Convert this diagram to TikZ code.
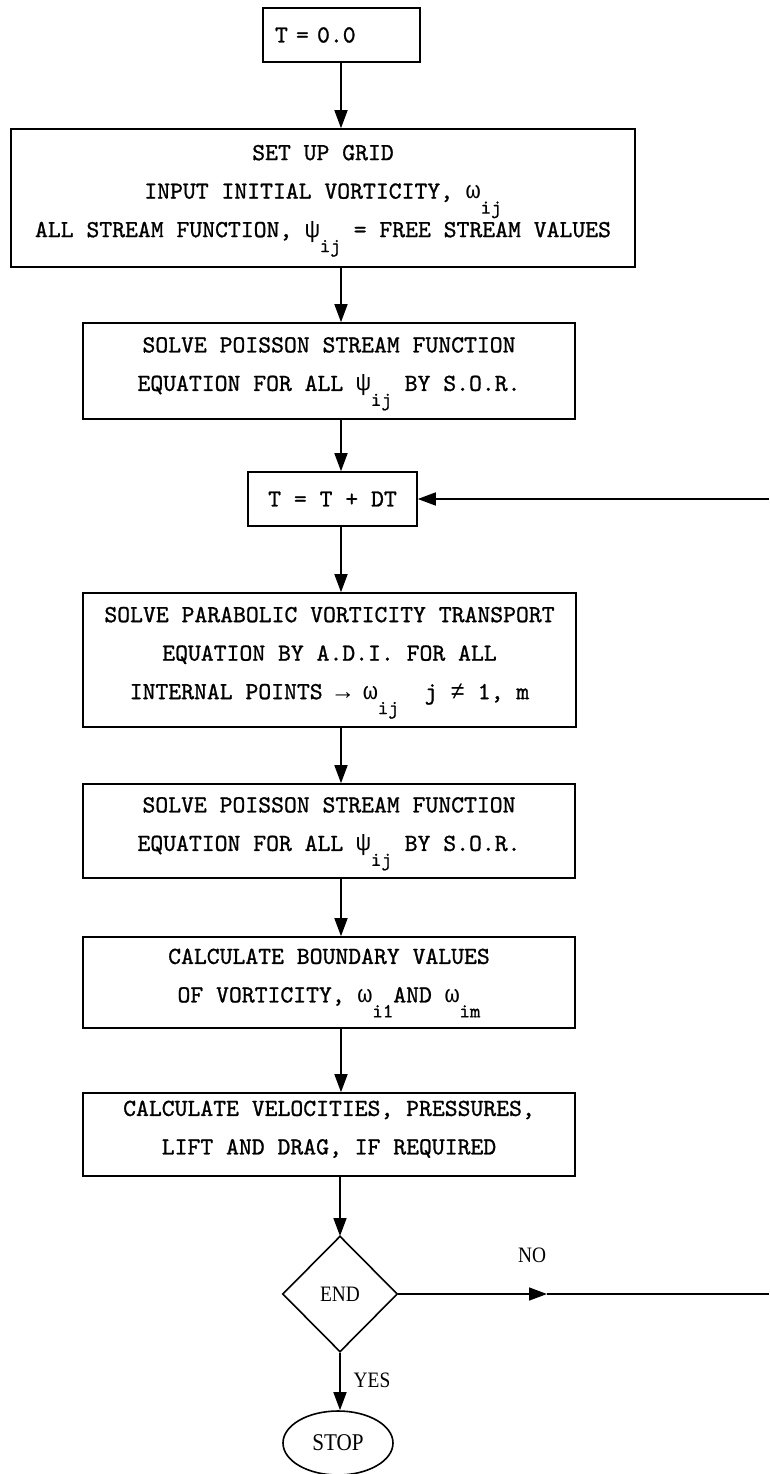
\documentclass[tikz,border=0pt]{standalone}
\usepackage{fontspec}
\usetikzlibrary{shapes.geometric,arrows.meta}
\newfontfamily\tw{lmmono10-regular.otf}[FakeStretch=1.0,FakeBold=1]
\newfontfamily\gk{Liberation Mono}
\newfontfamily\lbl{Liberation Serif}[FakeStretch=0.88]
\newcommand\ssub[1]{\smash{\raisebox{-15pt}{\fontsize{20}{20}\selectfont #1}}}
\newcommand\lstrut{\rule[-14pt]{0pt}{28pt}}
\begin{document}
\begin{tikzpicture}[x=1pt,y=-1pt,line width=1.6pt,
  box/.style={draw,rectangle,inner sep=0pt,font=\tw\fontsize{24.5}{38.5}\selectfont,align=center},
  lab/.style={inner sep=0pt,font=\lbl\fontsize{22}{22}\selectfont},
  arr/.style={-{Triangle[length=18pt,width=13pt]}}]
\fill[white] (0,0) rectangle (769,1474);
\useasboundingbox (0,0) rectangle (769,1474);
\coordinate (ax) at (341,0);
\node[box,minimum width=157pt,minimum height=54pt,text width=133pt,align=left] (b1) at (341.5,35) {T = 0.0};
\node[box,minimum width=624pt,minimum height=138pt] (b2) at (323,198)
  {\lstrut SET UP GRID\\
   \lstrut INPUT INITIAL VORTICITY, {\gk ω}\ssub{ij}\\
   \lstrut ALL STREAM FUNCTION, {\gk ψ}\ssub{ij} = FREE STREAM VALUES};
\node[box,minimum width=492pt,minimum height=96pt] (b3) at (329,371)
  {\lstrut SOLVE POISSON STREAM FUNCTION\\
   \lstrut EQUATION FOR ALL {\gk ψ}\ssub{ij} BY S.O.R.};
\node[box,minimum width=169pt,minimum height=54pt] (b4) at (332.5,499) {T = T + DT};
\node[box,minimum width=493pt,minimum height=134pt] (b5) at (329.5,660)
  {\lstrut SOLVE PARABOLIC VORTICITY TRANSPORT\\
   \lstrut EQUATION BY A.D.I. FOR ALL\\
   \lstrut INTERNAL POINTS {\gk →} {\gk ω}\ssub{ij}\ \ j {\gk ≠} 1, m};
\node[box,minimum width=492pt,minimum height=94pt] (b6) at (329,831)
  {\lstrut SOLVE POISSON STREAM FUNCTION\\
   \lstrut EQUATION FOR ALL {\gk ψ}\ssub{ij} BY S.O.R.};
\node[box,minimum width=492pt,minimum height=91pt] (b7) at (329,982.5)
  {\lstrut CALCULATE BOUNDARY VALUES\\
   \lstrut OF VORTICITY, {\gk ω}\ssub{i1}AND {\gk ω}\ssub{im}};
\node[box,minimum width=492pt,minimum height=83pt] (b8) at (329,1134.5)
  {\lstrut CALCULATE VELOCITIES, PRESSURES,\\
   \lstrut LIFT AND DRAG, IF REQUIRED};
\node[draw,diamond,minimum width=115pt,minimum height=116pt,inner sep=0pt,font=\lbl\fontsize{22}{22}\selectfont] (d) at (340,1294) {END};
\node[draw,ellipse,minimum width=110pt,minimum height=64pt,inner sep=0pt,font=\lbl\fontsize{24}{24}\selectfont] (stop) at (338,1443) {STOP};
\node[lab] (yes) at (372,1380) {YES};
\node[lab] (no) at (532,1255) {NO};
\coordinate (dtop) at (340,1236);
\draw[arr] (ax |- b1.south) -- (ax |- b2.north);
\draw[arr] (ax |- b2.south) -- (ax |- b3.north);
\draw[arr] (ax |- b3.south) -- (ax |- b4.north);
\draw[arr] (ax |- b4.south) -- (ax |- b5.north);
\draw[arr] (ax |- b5.south) -- (ax |- b6.north);
\draw[arr] (ax |- b6.south) -- (ax |- b7.north);
\draw[arr] (ax |- b7.south) -- (ax |- b8.north);
\draw[arr] (dtop |- b8.south) -- (dtop);
\draw[arr] (d.south) -- (d.south |- stop.north);
\coordinate (r1) at (769,499);
\draw[arr] (r1) -- (b4.east);
\coordinate (nomid) at (547,1294);
\coordinate (r2) at (769,1294);
\draw[arr] (d.east) -- (nomid);
\draw (nomid) -- (r2);
\end{tikzpicture}
\end{document}
